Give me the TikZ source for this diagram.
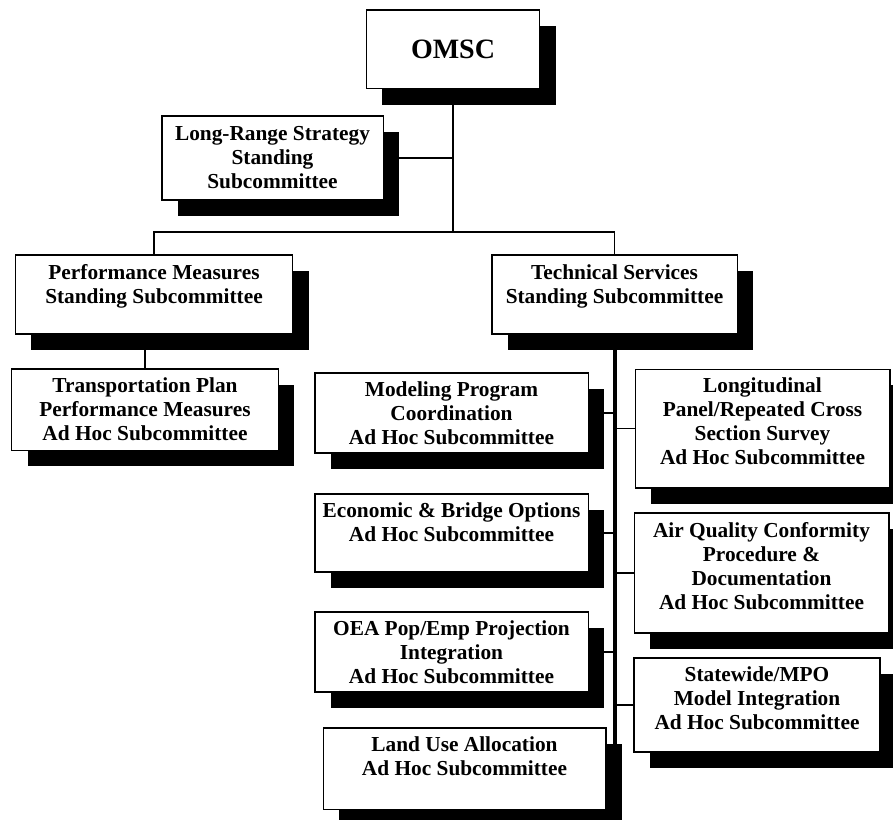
\documentclass[tikz,border=0pt]{standalone}
\usepackage{fontspec}
\setmainfont{Liberation Serif}
\usetikzlibrary{shadows,backgrounds}

\begin{document}
\begin{tikzpicture}[x=0.75pt, y=-0.75pt,
    box/.style={draw, line width=1pt, fill=white, align=center, inner sep=2pt,
      font=\bfseries\fontsize{16}{18}\selectfont,
      drop shadow={fill=black, opacity=1, shadow xshift=12pt, shadow yshift=-12pt}},
    conn/.style={line width=1pt},
    trunk/.style={line width=3pt}]
  \useasboundingbox (0,0) rectangle (893,820);

  % top of the tree
  \node [box, font=\bfseries\fontsize{21}{24}\selectfont, minimum width=130pt, minimum height=59pt] (omsc) at (453,49.5) {OMSC};
  \node [box, minimum width=166pt, minimum height=63pt] (lrs) at (272.5,158) {Long-Range Strategy\\Standing\\Subcommittee};
  \coordinate (bar) at (453,232);

  % standing subcommittees
  \node [box, minimum width=208pt, minimum height=59pt] (pms) at (154,294.5) {Performance Measures\\Standing Subcommittee\\[-2pt]\mbox{}};
  \node [box, minimum width=184pt, minimum height=59pt] (tss) at (614.5,294.5) {Technical Services\\Standing Subcommittee\\[-2pt]\mbox{}};
  \node [box, minimum width=200pt, minimum height=61pt] (tpp) at (145,409.5) {Transportation Plan\\Performance Measures\\Ad Hoc Subcommittee};

  % ad hoc, left of the trunk
  \node [box, minimum width=205pt, minimum height=60pt] (mpc) at (451.5,413) {Modeling Program\\Coordination\\Ad Hoc Subcommittee};
  \node [box, minimum width=205pt, minimum height=58.5pt] (ebo) at (451.5,533) {Economic \& Bridge Options\\Ad Hoc Subcommittee\\[-2pt]\mbox{}};
  \node [box, minimum width=205pt, minimum height=60pt] (oea) at (451.5,652) {OEA Pop/Emp Projection\\Integration\\Ad Hoc Subcommittee};
  \node [box, minimum width=212pt, minimum height=61pt] (lua) at (464.5,768.5) {Land Use Allocation\\Ad Hoc Subcommittee\\[1pt]\mbox{}};

  % ad hoc, right of the trunk
  \node [box, minimum width=191pt, minimum height=89pt] (lps) at (762.5,428.5) {Longitudinal\\Panel/Repeated Cross\\Section Survey\\Ad Hoc Subcommittee\\[-7pt]\mbox{}};
  \node [box, minimum width=191pt, minimum height=90pt] (aqc) at (761.5,573) {Air Quality Conformity\\Procedure \&\\Documentation\\Ad Hoc Subcommittee\\[-8pt]\mbox{}};
  \node [box, minimum width=184.5pt, minimum height=70.5pt] (smi) at (757,705) {Statewide/MPO\\Model Integration\\Ad Hoc Subcommittee\\[-7pt]\mbox{}};

  \begin{scope}[on background layer]
    \draw [conn] (omsc.south) -- (bar);
    \draw [conn] (lrs.east) -- (lrs.east -| omsc.south);
    \draw [conn] (pms.north) |- (bar) -| (tss.north);
    \draw [conn] (tpp.north) -- (tpp.north |- pms.south);
    \draw [trunk] (tss.south) -- (tss.south |- lua.east);
    \draw [conn] (mpc.east) -- (mpc.east -| tss.south);
    \draw [conn] (ebo.east) -- (ebo.east -| tss.south);
    \draw [conn] (oea.east) -- (oea.east -| tss.south);
    \draw [conn] (lua.east) -- (lua.east -| tss.south);
    \draw [conn] (lps.west) -- (lps.west -| tss.south);
    \draw [conn] (aqc.west) -- (aqc.west -| tss.south);
    \draw [conn] (smi.west) -- (smi.west -| tss.south);
  \end{scope}
\end{tikzpicture}
\end{document}
